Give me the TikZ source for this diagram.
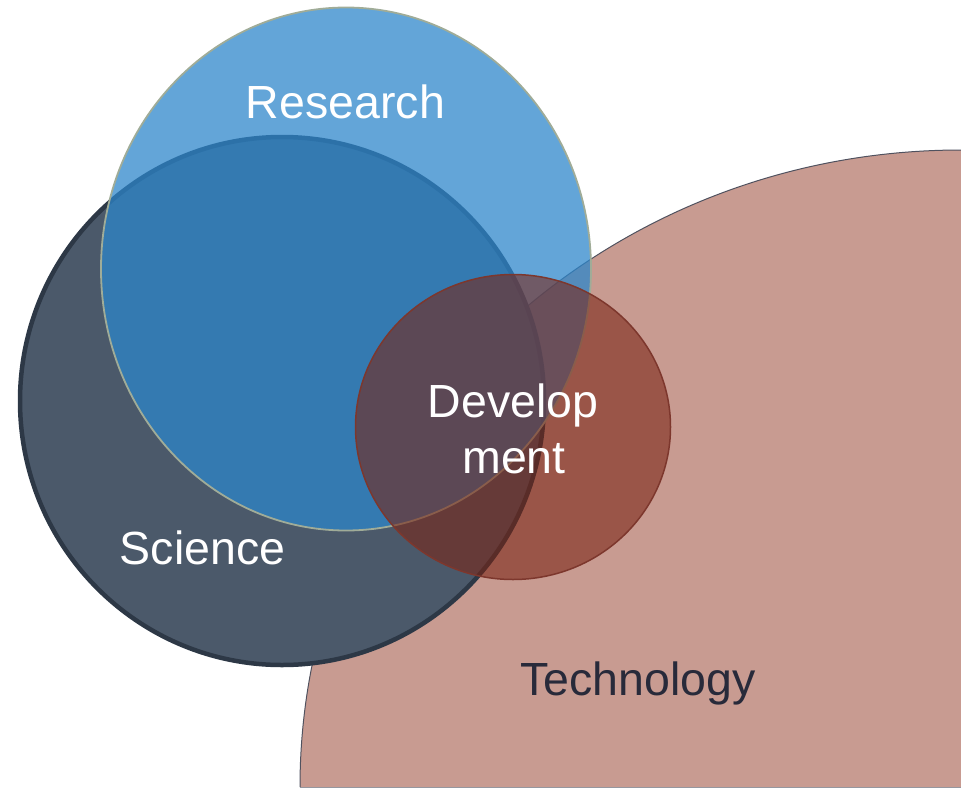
\documentclass[tikz,border=0pt]{standalone}
\usepackage{fontspec}
\setmainfont{Liberation Sans}
\usetikzlibrary{shapes.geometric}
\definecolor{techfill}{RGB}{200,155,145}
\definecolor{techline}{RGB}{80,82,95}
\definecolor{scifill}{RGB}{75,89,106}
\definecolor{sciline}{RGB}{45,56,70}
\definecolor{resfill}{RGB}{44,134,203}
\definecolor{resline}{RGB}{160,172,152}
\definecolor{devfill}{RGB}{122,36,20}
\definecolor{devline}{RGB}{125,55,45}
\definecolor{techtext}{RGB}{40,42,58}
\tikzset{
  blob/.style={ellipse, inner sep=0pt, outer sep=0pt},
  label/.style={font=\fontsize{46.5}{56}\selectfont, anchor=base, inner sep=0pt},
}
\begin{document}
\begin{tikzpicture}[x=1pt,y=-1pt]
\useasboundingbox (0,0) rectangle (961,790);
% Technology quarter ellipse
\fill[techfill] (300,787) arc[start angle=180, end angle=90, x radius=661pt, y radius=637pt] -- (961,787) -- cycle;
\draw[techline, line width=1pt] (300,787) arc[start angle=180, end angle=90, x radius=661pt, y radius=637pt];
\draw[techline!60, line width=0.8pt] (300,787) -- (961,787);
% Science
\node[blob, minimum width=524pt, minimum height=528pt, fill=scifill, draw=sciline, line width=4.5pt] (science) at (282,401) {};
% Research
\node[blob, minimum width=490pt, minimum height=523pt, fill=resfill, fill opacity=0.74, draw=resline, line width=1.8pt] (research) at (346,269) {};
% Development
\node[blob, minimum width=315pt, minimum height=305pt, fill=devfill, fill opacity=0.58, draw=devline, line width=1.5pt] (development) at (513,427) {};
% Labels
\node[label, text=white] (tres) at (345.5,118) {Research};
\node[label, text=white] (tsci) at (202.5,564) {Science};
\node[label, text=white] (tdev1) at (513,417) {Develop};
\node[label, text=white] (tdev2) at (514,473) {ment};
\node[label, text=techtext] (ttech) at (638,695) {Technology};
\end{tikzpicture}
\end{document}
